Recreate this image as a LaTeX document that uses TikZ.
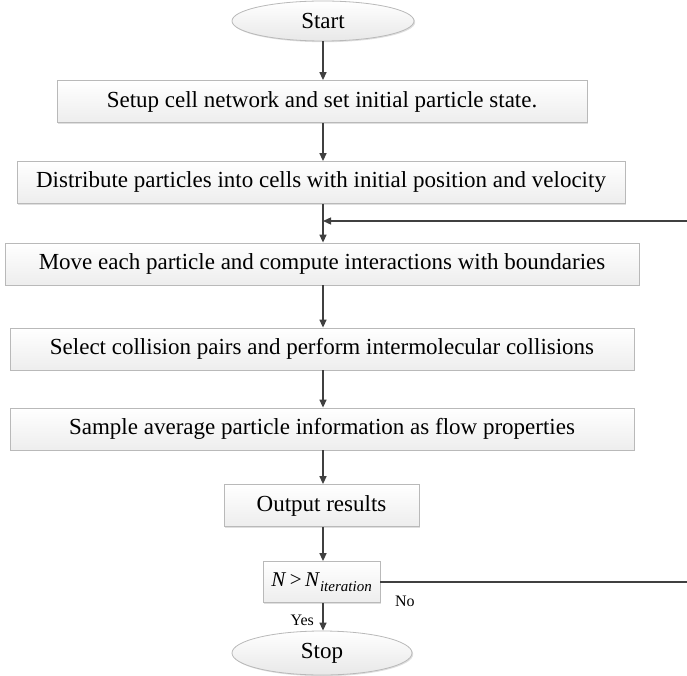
\documentclass[tikz,border=0pt]{standalone}
\usepackage{fontspec}
\setmainfont{Liberation Serif}
\usetikzlibrary{shapes.geometric,arrows.meta,shadows}
\begin{document}
\begin{tikzpicture}[x=1pt,y=-1pt,
  every node/.style={font=\fontsize{23}{27}\selectfont},
  box/.style={draw=gray!55, line width=0.8pt, top color=white, bottom color=gray!14,
    drop shadow={shadow xshift=1.2pt, shadow yshift=-1.2pt, opacity=0.25, fill=gray},
    minimum height=42pt, inner sep=0pt},
  term/.style={ellipse, draw=gray!55, line width=0.8pt, top color=white, bottom color=gray!18,
    drop shadow={shadow xshift=1.2pt, shadow yshift=-1.2pt, opacity=0.25, fill=gray},
    inner sep=0pt},
  flow/.style={draw=black!75, line width=1.4pt, -{Triangle[length=8pt,width=7pt]}},
  lbl/.style={font=\fontsize{16}{19}\selectfont}
]
\useasboundingbox (0,0) rectangle (687,676);

\node[term, minimum width=182pt, minimum height=40pt] (start) at (323,21) {Start};
\node[box, minimum width=530pt] (b1) at (322,101.5) {Setup cell network and set initial particle state.};
\node[box, minimum width=608pt] (b2) at (321,182.5) {Distribute particles into cells with initial position and velocity};
\node[box, minimum width=634pt] (b3) at (322,264) {Move each particle and compute interactions with boundaries};
\node[box, minimum width=624pt] (b4) at (322,349) {Select collision pairs and perform intermolecular collisions};
\node[box, minimum width=624pt] (b5) at (322,429) {Sample average particle information as flow properties};
\node[box, minimum width=195pt] (b6) at (321.5,505.5) {Output results};
\node[box, minimum width=117pt, minimum height=41pt, font=\fontsize{21}{25}\selectfont] (b7) at (321.5,582)
  {\itshape N\/\,\upshape>\,\itshape N\/\raisebox{-0.5ex}{\fontsize{15}{17}\selectfont iteration}};
\node[term, minimum width=180pt, minimum height=44pt] (stop) at (322,653) {Stop};

\coordinate (loopin) at (323,221);
\coordinate (rtop) at (687,221);
\coordinate (rbot) at (687,582);

\draw[flow] (start.south) -- (start.south |- b1.north);
\draw[flow] (b1.south -| start.south) -- (start.south |- b2.north);
\draw[flow] (b2.south -| start.south) -- (start.south |- b3.north);
\draw[flow] (b3.south -| start.south) -- (start.south |- b4.north);
\draw[flow] (b4.south -| start.south) -- (start.south |- b5.north);
\draw[flow] (b5.south -| start.south) -- (start.south |- b6.north);
\draw[flow] (b6.south -| start.south) -- (start.south |- b7.north);
\draw[flow] (b7.south -| start.south) -- node[lbl, left=5pt, pos=0.62] {Yes} (start.south |- stop.north);

\draw[flow, -] (b7.east) -- node[lbl, below=10pt, pos=0.08] {No} (rbot);
\draw[flow] (rtop) -- (loopin);
\end{tikzpicture}
\end{document}
